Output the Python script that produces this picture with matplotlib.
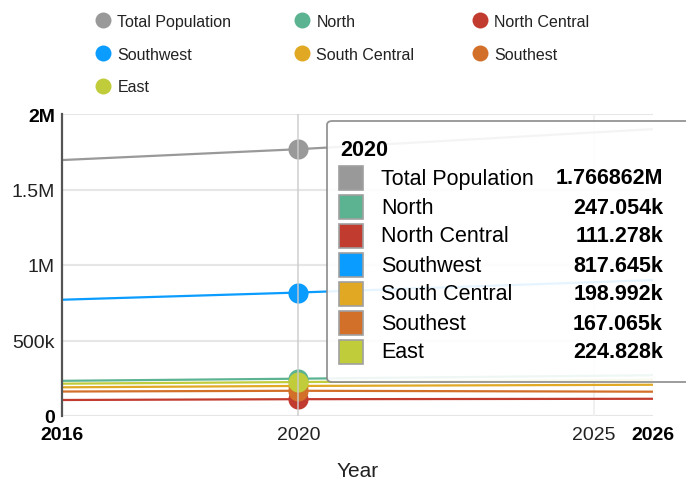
import matplotlib
matplotlib.use("Agg")
import matplotlib.pyplot as plt
from matplotlib.lines import Line2D
from matplotlib.patches import FancyBboxPatch, Rectangle

plt.rcParams["font.family"] = ["Liberation Sans", "DejaVu Sans"]

# ── data ─────────────────────────────────────────────────────────────────────
years = [2016, 2020, 2026]
series_names = ["Total Population", "North", "North Central", "Southwest",
                "South Central", "Southest", "East"]
total_population = [1695000, 1766862, 1900000]
north = [233000, 247054, 270000]
north_central = [106000, 111278, 114000]
southwest = [770000, 817645, 900000]
south_central = [190000, 198992, 207000]
southest = [162000, 167065, 161000]
east = [214000, 224828, 240000]
series_values = [total_population, north, north_central, southwest,
                 south_central, southest, east]
colors = ["#999999", "#5cb391", "#c23b2f", "#0a9cff",
          "#e0a823", "#d2702a", "#c0cc3a"]

hover_year = 2020
y_ticks = [0, 500000, 1000000, 1500000, 2000000]
y_tick_labels = ["0", "500k", "1M", "1.5M", "2M"]
x_ticks = [2016, 2020, 2025, 2026]
x_tick_labels = ["2016", "2020", "2025", "2026"]


def fmt_value(v):
    if v >= 1e6:
        return f"{v / 1e6:.6f}".rstrip("0").rstrip(".") + "M"
    return f"{v / 1e3:.3f}".rstrip("0").rstrip(".") + "k"


fig = plt.figure(figsize=(6.86, 4.81), dpi=100)
ax = fig.add_axes([62 / 686, 1 - 417 / 481, (653 - 62) / 686, (417 - 115) / 481])

# gridlines
for yt in y_ticks:
    ax.axhline(yt, color="#e6e6e6", lw=1.5, zorder=0)
ax.axvline(2025, color="#eeeeee", lw=1.2, zorder=0)

# lines + hovered markers
hi = years.index(hover_year)
for name, vals, c in zip(series_names, series_values, colors):
    ax.plot(years, vals, color=c, lw=1.6, zorder=2, solid_capstyle="butt")
for name, vals, c in zip(series_names, series_values, colors):
    ax.plot([years[hi]], [vals[hi]], "o", color=c, ms=14.5, mec="none", zorder=3)
ax.axvline(hover_year, color="#cccccc", lw=1.3, alpha=0.8, zorder=4)

ax.set_xlim(2016, 2026)
ax.set_ylim(0, 2000000)
for s in ["top", "right", "bottom"]:
    ax.spines[s].set_visible(False)
ax.spines["left"].set_color("#555555")
ax.spines["left"].set_linewidth(1.6)
ax.set_yticks(y_ticks)
ax.set_yticklabels(y_tick_labels)
ax.set_xticks(x_ticks)
ax.set_xticklabels(x_tick_labels)
ax.tick_params(axis="both", length=0, labelsize=14, colors="#222222")
ax.tick_params(axis="y", pad=5)
ax.tick_params(axis="x", pad=7)
for lbl in ax.get_yticklabels():
    if lbl.get_text() in ("0", "2M"):
        lbl.set_fontweight("bold")
        lbl.set_color("black")
for lbl in ax.get_xticklabels():
    if lbl.get_text() in ("2016", "2026"):
        lbl.set_fontweight("bold")
        lbl.set_color("black")
ax.set_xlabel("Year", fontsize=15, color="#222222", labelpad=13)

# legend at top, three columns
handles = [Line2D([], [], ls="none", marker="o", ms=11.5, color=c, mec="none")
           for c in colors]
columns = [[0, 3, 6], [1, 4], [2, 5]]
col_x = [103, 302, 480]
for idx, cx in zip(columns, col_x):
    fig.legend([handles[i] for i in idx], [series_names[i] for i in idx],
               loc="upper left", bbox_to_anchor=((cx - 8) / 686, 1 - 15 / 481),
               frameon=False, fontsize=11.5, borderpad=0, borderaxespad=0,
               handlelength=1.0, handletextpad=0.4, labelspacing=1.1,
               labelcolor="#222222")

# tooltip
box = FancyBboxPatch((327 / 686, 1 - 383 / 481), (720 - 327) / 686, (383 - 122) / 481,
                     boxstyle="round,pad=0,rounding_size=0.008",
                     transform=fig.transFigure, facecolor="white", alpha=0.9,
                     edgecolor="#888888", lw=1.3, zorder=10)
fig.patches.append(box)
fig.text(340 / 686, 1 - 150 / 481, str(hover_year), fontsize=15.5, fontweight="bold",
         va="center", ha="left", zorder=11)
for k, (name, vals, c) in enumerate(zip(series_names, series_values, colors)):
    yc = 179 + 29 * k
    fig.patches.append(Rectangle((339 / 686, 1 - (yc + 12) / 481), 24 / 686, 24 / 481,
                                 transform=fig.transFigure, facecolor=c,
                                 edgecolor="#a0a0a0", lw=1.2, zorder=11))
    fig.text(381 / 686, 1 - yc / 481, name, fontsize=15.5, va="center", ha="left",
             zorder=11)
    fig.text(663 / 686, 1 - yc / 481, fmt_value(vals[hi]), fontsize=15.5,
             fontweight="bold", va="center", ha="right", zorder=11)

fig.savefig("out.png", dpi=100)
